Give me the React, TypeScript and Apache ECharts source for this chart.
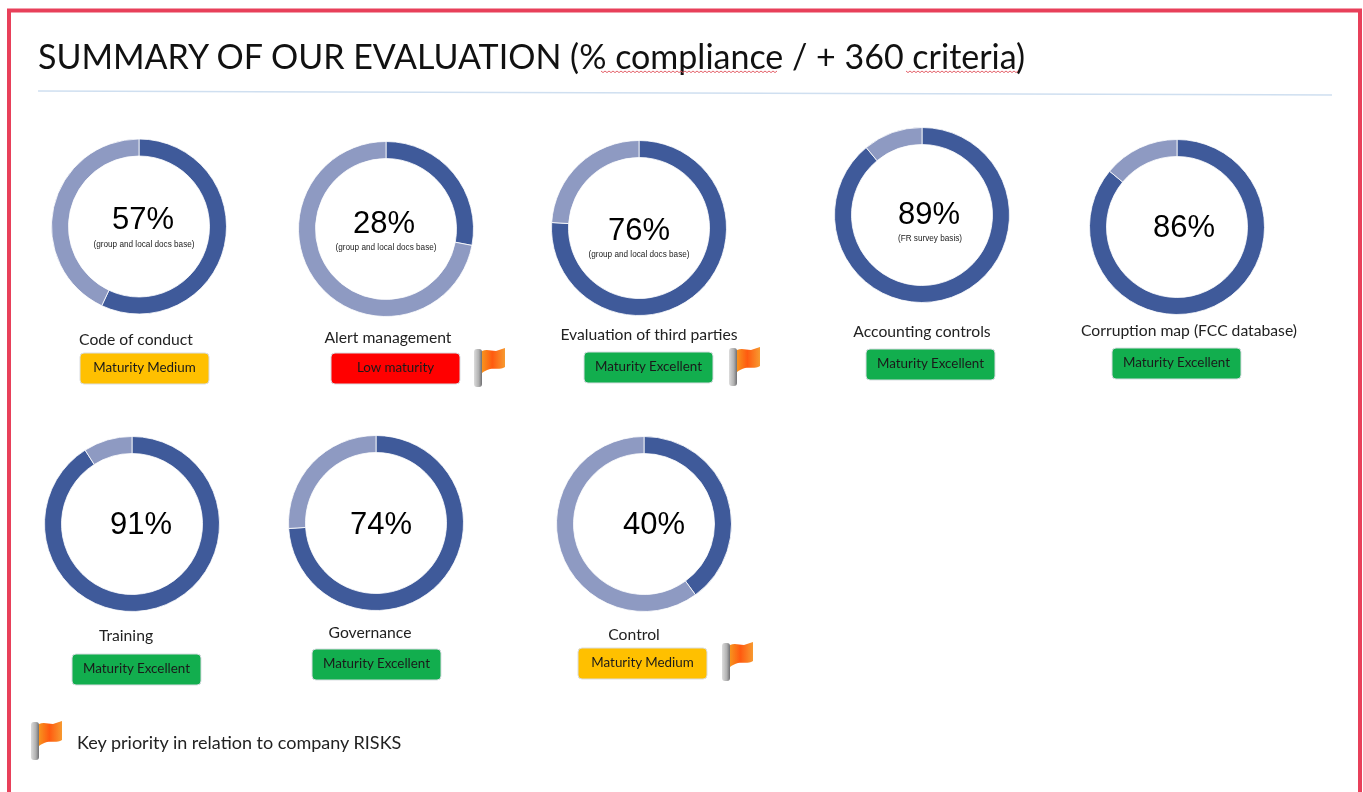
import React, { useEffect, useRef } from "react";
import * as echarts from "echarts";

const names = ["Code of conduct", "Alert management", "Evaluation of third parties", "Accounting controls", "Corruption map (FCC database)", "Training", "Governance", "Control"];
const compliance = [57, 28, 76, 89, 86, 91, 74, 40];
const notes = ["(group and local docs base)", "(group and local docs base)", "(group and local docs base)", "(FR survey basis)", "", "", "", ""];
const maturity = ["Maturity Medium", "Low maturity", "Maturity Excellent", "Maturity Excellent", "Maturity Excellent", "Maturity Excellent", "Maturity Excellent", "Maturity Medium"];

const ringCentres = [[139, 226.5], [386, 229], [639, 228], [922, 215], [1177, 227], [132, 524], [376, 523], [644, 524]];
const percentCentres = [[143, 218], [384, 222], [639, 229], [929, 213], [1184, 226], [141, 523], [381, 523], [654, 523]];
const noteCentres = [[144, 244], [386, 247], [639, 254], [930, 238]];
const nameCentres = [[136, 339], [388, 337], [649, 334], [922, 331], [1189, 330], [126, 635], [370, 632], [634, 634]];
const badgeOrigins = [[80, 353], [331, 353], [584, 352], [866, 349], [1112, 348], [72, 654], [312, 649], [578, 648]];
const flagOrigins = [[474, 347], [729, 346], [722, 641], [31, 720]];
const badgeColours: Record<string, string> = { "Maturity Medium": "#ffc000", "Low maturity": "#ff0000", "Maturity Excellent": "#12ae4e" };

echarts.graphic.registerShape("flagCloth", echarts.graphic.extendPath("M0 3 C5 1 9 3 14 3 C17 2 20 1 23 0 L23 19 C18 22 13 20 8 21 C5 22 2 23 0 25 Z", {}));

const squiggle = (x0: number, x1: number, y: number) => {
  const pts: number[][] = [];
  for (let x = x0, i = 0; x <= x1; x += 2, i++) pts.push([x, y + (i % 2 ? 1.6 : 0)]);
  return { type: "polyline", shape: { points: pts }, style: { stroke: "#e0505a", lineWidth: 0.9, fill: "none" } };
};

const flag = ([x, y]: number[]) => ({
  type: "group", x, y,
  children: [
    { type: "rect", shape: { x: 0, y: 2, width: 8, height: 38, r: 3 }, style: { fill: { type: "linear", x: 0, y: 0, x2: 1, y2: 0, colorStops: [{ offset: 0, color: "#dcdcdc" }, { offset: 0.6, color: "#b0b0b0" }, { offset: 1, color: "#6f6f72" }] } } },
    { type: "flagCloth", x: 8, y: 1, style: { fill: { type: "linear", x: 0, y: 0, x2: 1, y2: 0, colorStops: [{ offset: 0, color: "#f7931e" }, { offset: 0.45, color: "#ff5a10" }, { offset: 1, color: "#f79a30" }] } } },
  ],
});

export default function App() {
  const ref = useRef<HTMLDivElement>(null);
  useEffect(() => {
    document.body.style.margin = "0";
    const chart = echarts.init(ref.current!, undefined, { renderer: "svg" });
    const texts: any[] = [];
    const badges: any[] = [];
    names.forEach((n, i) => {
      texts.push({ type: "text", x: percentCentres[i][0], y: percentCentres[i][1], style: { text: compliance[i] + "%", font: "31px 'Liberation Sans'", fill: "#000", textAlign: "center", textVerticalAlign: "middle" } });
      if (notes[i]) texts.push({ type: "text", x: noteCentres[i][0], y: noteCentres[i][1], style: { text: notes[i], font: "8.2px 'Liberation Sans'", fill: "#222", textAlign: "center", textVerticalAlign: "middle" } });
      texts.push({ type: "text", x: nameCentres[i][0], y: nameCentres[i][1], style: { text: n, font: "15.7px Lato", fill: "#222", textAlign: "center", textVerticalAlign: "middle" } });
      const [bx, by] = badgeOrigins[i];
      badges.push({ type: "rect", shape: { x: bx, y: by, width: 129, height: 31, r: 4 }, style: { fill: badgeColours[maturity[i]], stroke: "#d9dde2", lineWidth: 1 } });
      texts.push({ type: "text", x: bx + 64.5, y: by + 14, style: { text: maturity[i], font: "13.4px Lato", fill: "#1a1a1a", textAlign: "center", textVerticalAlign: "middle" } });
    });
    chart.setOption({
      animation: false,
      backgroundColor: "#fff",
      series: names.map((n, i) => ({
        type: "pie",
        name: n,
        center: ringCentres[i],
        radius: [70.5, 87.5],
        startAngle: 90,
        clockwise: true,
        silent: true,
        label: { show: false },
        labelLine: { show: false },
        itemStyle: { borderColor: "#fff", borderWidth: 0.8 },
        data: [
          { value: compliance[i], name: "Compliant", itemStyle: { color: "#3f5a9a" } },
          { value: 100 - compliance[i], name: "Remaining", itemStyle: { color: "#8e9ac2" } },
        ],
      })),
      graphic: [
        { type: "polyline", shape: { points: [[9, 792], [9, 10.5], [1360, 10.5], [1360, 792]] }, style: { stroke: "#e8405a", lineWidth: 4, fill: "none" } },
        { type: "text", x: 38, y: 55, style: { text: "SUMMARY OF OUR EVALUATION (% compliance / + 360 criteria)", font: "34px Lato", fill: "#111", textVerticalAlign: "middle" } },
        squiggle(601, 778, 71),
        squiggle(906, 1018, 71),
        { type: "line", shape: { x1: 38, y1: 91, x2: 1332, y2: 95 }, style: { stroke: "#cfdff0", lineWidth: 1.5 } },
        ...badges,
        ...texts,
        ...flagOrigins.map(flag),
        { type: "text", x: 77, y: 742, style: { text: "Key priority in relation to company RISKS", font: "18px Lato", fill: "#222", textVerticalAlign: "middle" } },
      ],
    });
    return () => chart.dispose();
  }, []);
  return <div ref={ref} style={{ width: 1363, height: 792, filter: "blur(0.5px)" }} />;
}
